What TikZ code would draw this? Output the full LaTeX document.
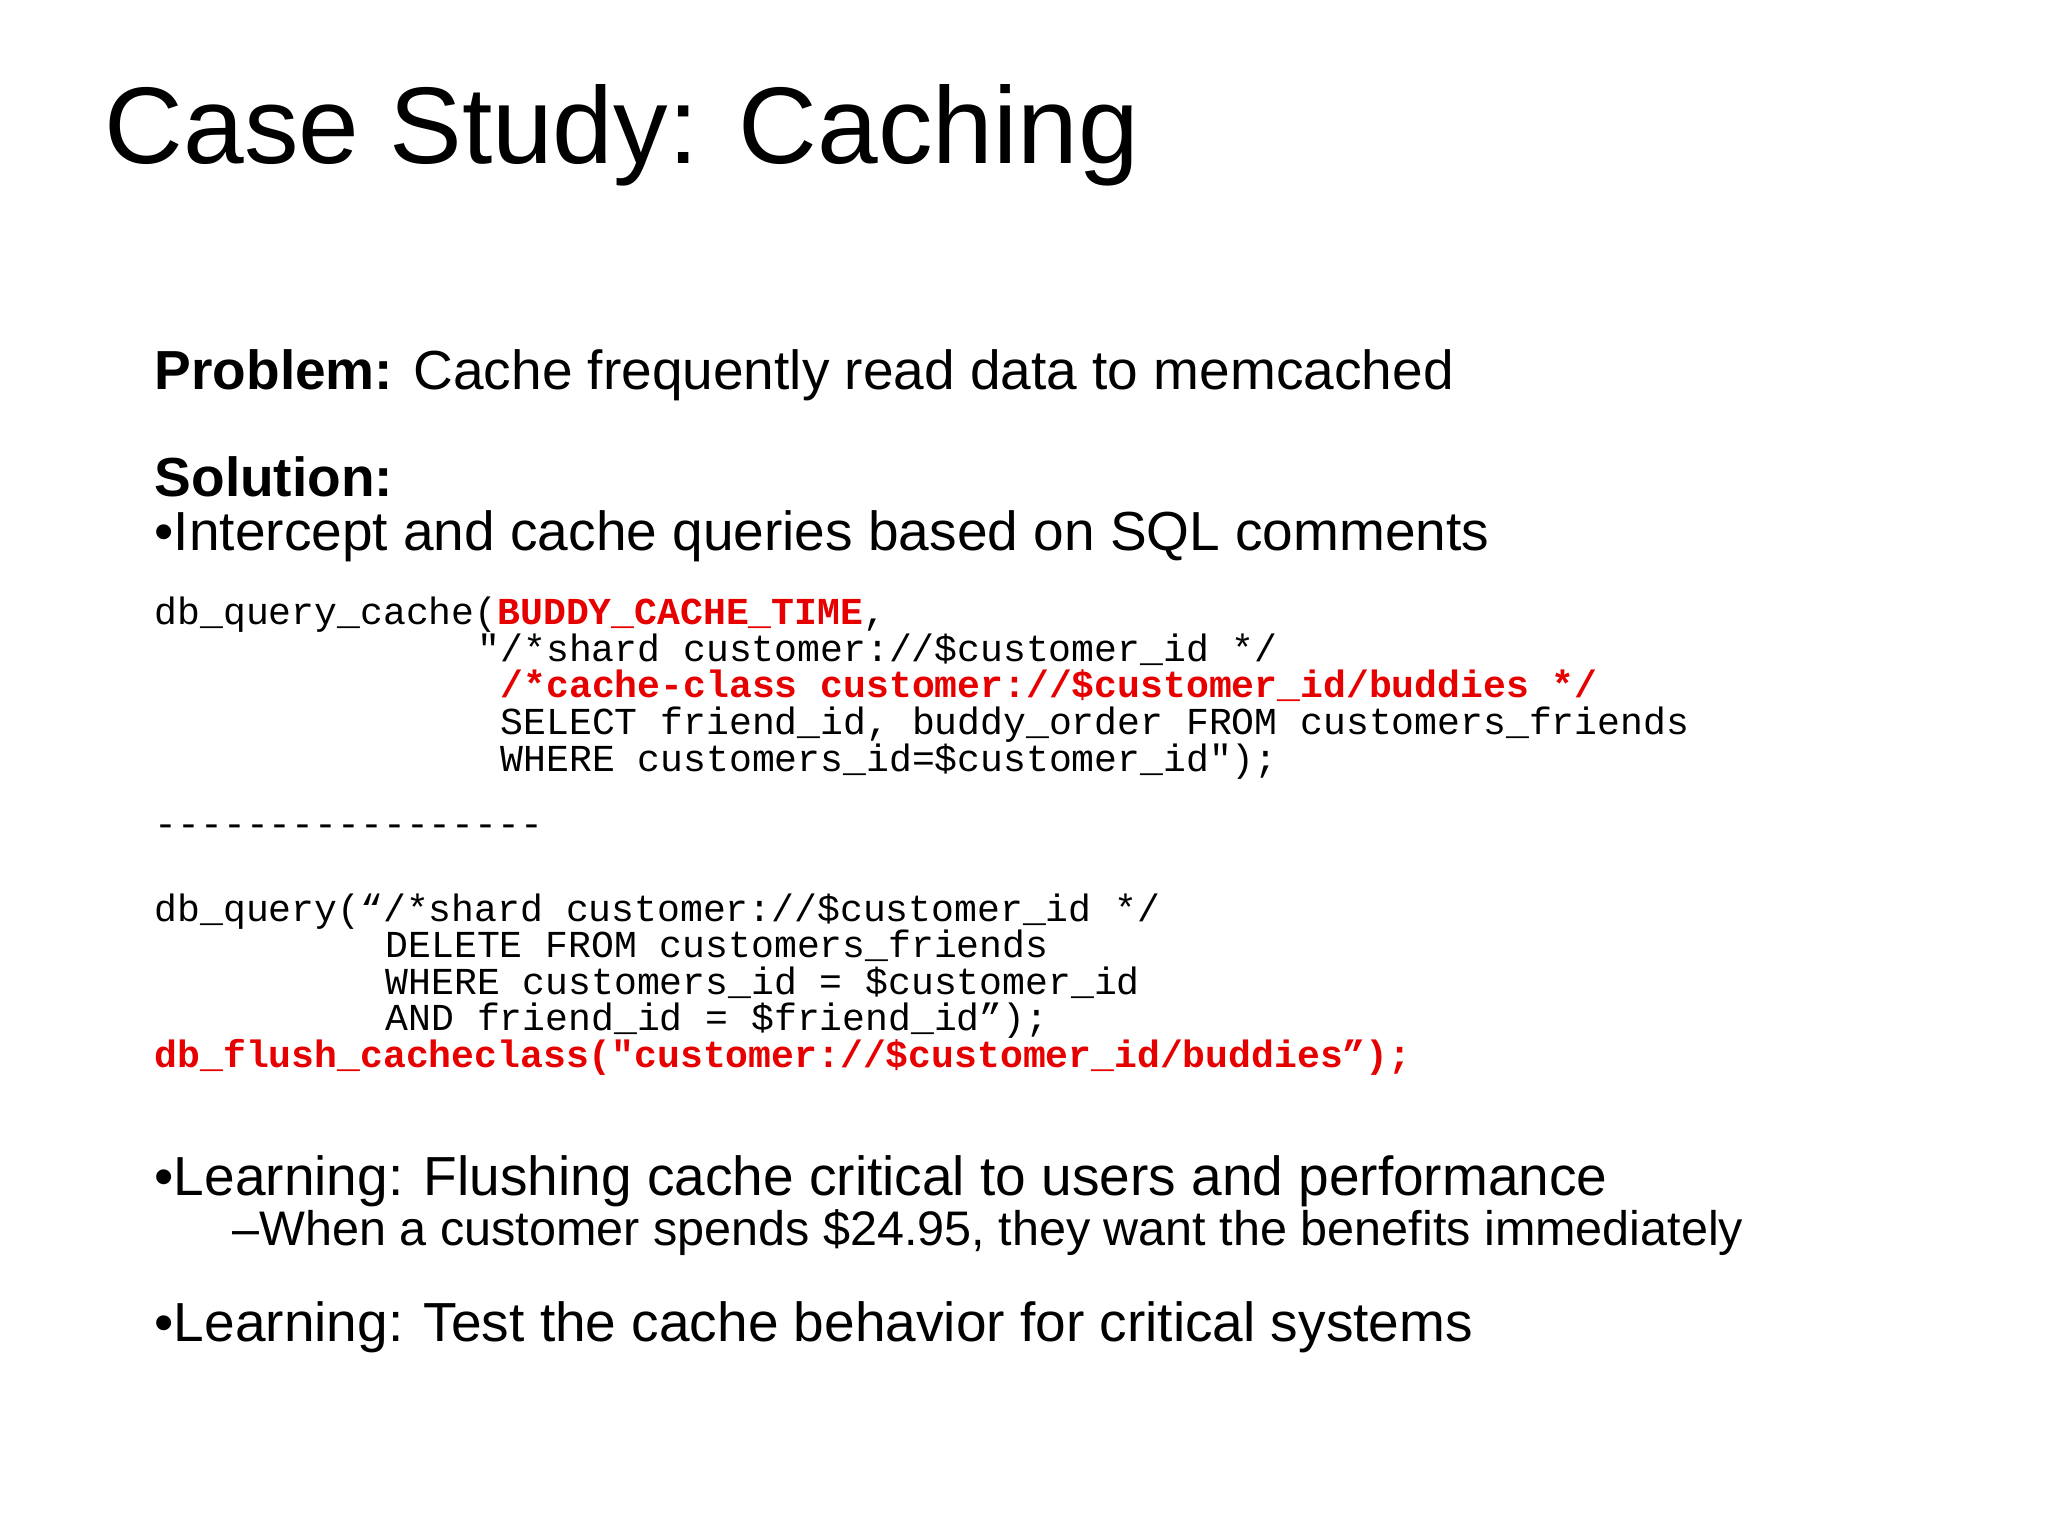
\documentclass[tikz,border=0pt]{standalone}
\usepackage{fontspec}
\setmainfont{Liberation Sans}
\newfontfamily\codefont{Liberation Mono}
\definecolor{codered}{RGB}{230,0,0}
\begin{document}
\begin{tikzpicture}[x=0.01cm,y=-0.01cm]
\tikzset{
  txt/.style={anchor=base west,inner sep=0pt,font=\fontsize{15.65pt}{18pt}\selectfont},
  code/.style={anchor=base west,inner sep=0pt,font=\codefont\fontsize{10.83pt}{12pt}\selectfont},
  sub/.style={anchor=base west,inner sep=0pt,font=\fontsize{13.8pt}{16pt}\selectfont},
}
\newcommand{\rb}[1]{{\bfseries\color{codered}#1}}
\useasboundingbox[fill=white] (0,0) rectangle (2048,1536);
\node[anchor=base west,inner sep=0pt,font=\fontsize{31pt}{36pt}\selectfont] (title) at (104,163) {Case Study: Caching};
\node[txt] (prob) at (154,389) {\textbf{Problem:} Cache frequently read data to memcached};
\node[txt] (sol) at (154,496) {\textbf{Solution:}};
\node[txt] (b1) at (154,550) {•Intercept and cache queries based on SQL comments};
\node[code] (c1) at (154,624) {db\_query\_cache(\rb{BUDDY\_CACHE\_TIME},};
\node[code] (c2) at (477,661) {"/*shard customer://\$customer\_id */};
\node[code] (c3) at (500,697) {\rb{/*cache-class customer://\$customer\_id/buddies */}};
\node[code] (c4) at (500,734) {SELECT friend\_id, buddy\_order FROM customers\_friends};
\node[code] (c5) at (500,771) {WHERE customers\_id=\$customer\_id");};
\node[code] (dash) at (154,836) {-{}-{}-{}-{}-{}-{}-{}-{}-{}-{}-{}-{}-{}-{}-{}-{}-{}};
\node[code] (d1) at (154,921) {db\_query(“/*shard customer://\$customer\_id */};
\node[code] (d2) at (385,957) {DELETE FROM customers\_friends};
\node[code] (d3) at (385,994) {WHERE customers\_id = \$customer\_id};
\node[code] (d4) at (385,1030) {AND friend\_id = \$friend\_id”);};
\node[code] (d5) at (154,1067) {\rb{db\_flush\_cacheclass("customer://\$customer\_id/buddies”);}};
\node[txt] (l1) at (154,1195) {•Learning: Flushing cache critical to users and performance};
\node[sub] (l1s) at (232,1245) {–When a customer spends \$24.95, they want the benefits immediately};
\node[txt] (l2) at (154,1341) {•Learning: Test the cache behavior for critical systems};
\end{tikzpicture}
\end{document}
